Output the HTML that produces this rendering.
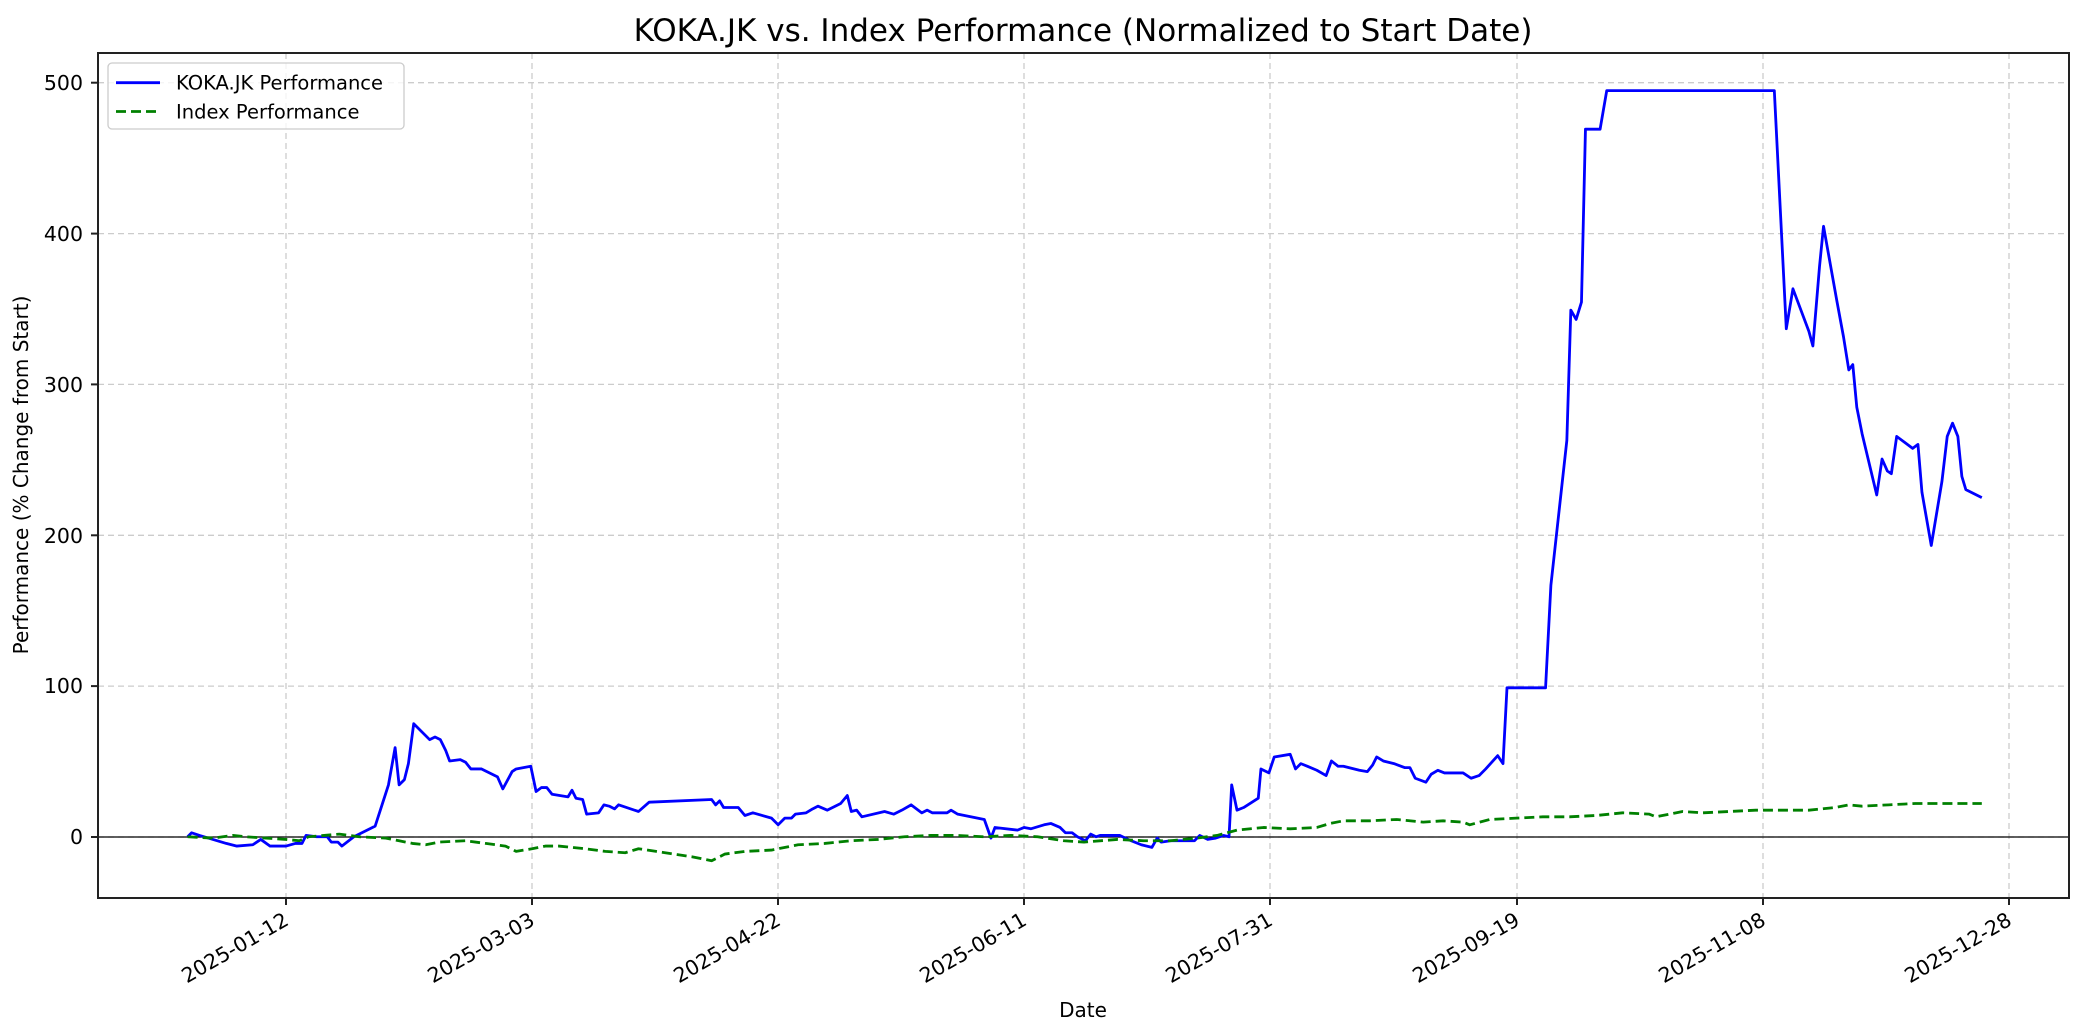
<!DOCTYPE html>
<html><head><meta charset="utf-8"><style>
html,body{margin:0;padding:0;background:#fff;}
svg{display:block;font-family:"DejaVu Sans","Liberation Sans",sans-serif;}
</style></head><body>
<svg width="2084" height="1035" viewBox="0 0 2084 1035" xmlns="http://www.w3.org/2000/svg">
<rect width="2084" height="1035" fill="#fff"/>
<g stroke="#cccccc" stroke-width="1.3" stroke-dasharray="6,4" fill="none">
<line x1="286" y1="53" x2="286" y2="898"/>
<line x1="532" y1="53" x2="532" y2="898"/>
<line x1="778" y1="53" x2="778" y2="898"/>
<line x1="1024" y1="53" x2="1024" y2="898"/>
<line x1="1270" y1="53" x2="1270" y2="898"/>
<line x1="1517" y1="53" x2="1517" y2="898"/>
<line x1="1763" y1="53" x2="1763" y2="898"/>
<line x1="2009" y1="53" x2="2009" y2="898"/>
<line x1="98" y1="82.7" x2="2069" y2="82.7"/>
<line x1="98" y1="233.6" x2="2069" y2="233.6"/>
<line x1="98" y1="384.4" x2="2069" y2="384.4"/>
<line x1="98" y1="535.3" x2="2069" y2="535.3"/>
<line x1="98" y1="686.1" x2="2069" y2="686.1"/>
<line x1="98" y1="837" x2="2069" y2="837"/>
</g>
<line x1="98" y1="837" x2="2069" y2="837" stroke="#000" stroke-width="1.3"/>
<g transform="translate(0.1,0.2) scale(1.33)" fill="none" stroke-linejoin="round">
<polyline vector-effect="non-scaling-stroke" stroke="#0000ff" stroke-width="2.8" points="141,629 144,626 150,628 160,631 170,634 178,636 190,635 196,631 203,636 215,636 222,634 227,634 230,628 238,629 246,629 249,633 254,633 257,636 266,629 282,621 292,590 297,562 300,590 304,586 307,574 311,544 323,556 327,554 331,556 335,564 338,572 346,571 350,573 354,578 362,578 374,584 378,593 385,580 388,578 399,576 403,595 407,592 411,592 415,597 427,599 430,594 433,600 438,601 441,612 450,611 454,605 458,606 462,608 465,605 480,610 488,603 535,601 538,605 541,602 544,607 555,607 560,613 566,611 580,615 585,620 590,615 595,615 598,612 606,611 611,608 615,606 622,609 632,604 637,598 640,610 644,609 648,614 665,610 672,612 678,609 685,605 693,611 697,609 701,611 712,611 715,609 720,612 740,616 745,630 748,622 765,624 770,622 775,623 785,620 790,619 797,622 801,626 806,626 810,629 816,632 820,627 824,629 827,628 842,628 848,631 858,635 866,637 870,630 873,633 880,632 898,632 902,628 908,631 914,630 920,628 924,629 926,590 930,609 935,607 946,600 948,578 954,581 958,569 970,567 974,578 978,574 983,576 990,579 997,583 1001,572 1006,576 1010,576 1022,579 1028,580 1032,575 1035,569 1040,572 1048,574 1056,577 1060,577 1064,585 1072,588 1076,582 1081,579 1086,581 1100,581 1106,585 1112,583 1117,578 1126,568 1130,574 1133,517 1162,517 1166,440 1178,331 1181,233 1185,240 1189,227 1192,97 1203,97 1208,68 1334,68 1343,247 1348,217 1360,249 1363,260 1368,200 1371,170 1381,226 1386,253 1390,278 1393,274 1396,306 1400,326 1411,372 1415,345 1419,354 1422,356 1426,328 1438,337 1442,334 1445,370 1452,410 1460,362 1464,328 1468,318 1472,328 1475,358 1478,368 1490,374"/>
<polyline vector-effect="non-scaling-stroke" stroke="#008000" stroke-width="2.8" stroke-dasharray="10,5" points="141,629 160,630 175,628 185,629 200,630 215,631 225,632 232,629 255,627 270,629 290,630 300,632 310,634 320,635 330,633 350,632 365,634 380,636 388,640 400,638 410,636 420,636 440,638 455,640 470,641 480,638 500,641 520,644 535,647 545,642 560,640 580,639 600,635 620,634 640,632 660,631 680,629 700,628 720,628 740,629 760,628 780,629 800,632 815,633 840,631 860,632 880,632 900,630 915,628 930,624 950,622 970,623 990,622 1000,619 1010,617 1030,617 1050,616 1070,618 1085,617 1100,618 1105,620 1120,616 1140,615 1160,614 1180,614 1200,613 1220,611 1240,612 1245,614 1260,611 1265,610 1280,611 1300,610 1320,609 1340,609 1360,609 1380,607 1390,605 1400,606 1420,605 1440,604 1460,604 1470,604 1490,604"/>
</g>
<rect x="98" y="53" width="1971" height="845" fill="none" stroke="#222" stroke-width="2"/>
<g stroke="#222" stroke-width="2">
<line x1="91" y1="82.7" x2="98" y2="82.7"/><line x1="91" y1="233.6" x2="98" y2="233.6"/><line x1="91" y1="384.4" x2="98" y2="384.4"/><line x1="91" y1="535.3" x2="98" y2="535.3"/><line x1="91" y1="686.1" x2="98" y2="686.1"/><line x1="91" y1="837" x2="98" y2="837"/>
<line x1="286" y1="898" x2="286" y2="905"/><line x1="532" y1="898" x2="532" y2="905"/><line x1="778" y1="898" x2="778" y2="905"/><line x1="1024" y1="898" x2="1024" y2="905"/><line x1="1270" y1="898" x2="1270" y2="905"/><line x1="1517" y1="898" x2="1517" y2="905"/><line x1="1763" y1="898" x2="1763" y2="905"/><line x1="2009" y1="898" x2="2009" y2="905"/>
</g>
<g font-size="20.5" fill="#000" text-anchor="end">
<text x="83" y="90">500</text><text x="83" y="241">400</text><text x="83" y="392">300</text><text x="83" y="543">200</text><text x="83" y="693">100</text><text x="83" y="844">0</text>
</g>
<g font-size="20.5" fill="#000" text-anchor="end">
<text transform="translate(290,924) rotate(-30)">2025-01-12</text>
<text transform="translate(536,924) rotate(-30)">2025-03-03</text>
<text transform="translate(782,924) rotate(-30)">2025-04-22</text>
<text transform="translate(1028,924) rotate(-30)">2025-06-11</text>
<text transform="translate(1274,924) rotate(-30)">2025-07-31</text>
<text transform="translate(1521,924) rotate(-30)">2025-09-19</text>
<text transform="translate(1767,924) rotate(-30)">2025-11-08</text>
<text transform="translate(2013,924) rotate(-30)">2025-12-28</text>
</g>
<text x="1083" y="1017" font-size="20" text-anchor="middle">Date</text>
<text transform="translate(28,475) rotate(-90)" font-size="20" text-anchor="middle">Performance (% Change from Start)</text>
<text x="1083" y="41" font-size="31" text-anchor="middle">KOKA.JK vs. Index Performance (Normalized to Start Date)</text>
<rect x="108" y="63" width="296" height="66" rx="4" fill="#fff" fill-opacity="0.8" stroke="#cccccc" stroke-width="1.3"/>
<line x1="116" y1="82.7" x2="160" y2="82.7" stroke="#0000ff" stroke-width="2.8"/>
<line x1="116" y1="111.5" x2="160" y2="111.5" stroke="#008000" stroke-width="2.8" stroke-dasharray="10,5"/>
<text x="176" y="89.5" font-size="19.5">KOKA.JK Performance</text>
<text x="176" y="118.5" font-size="19.5">Index Performance</text>
</svg>
</body></html>
